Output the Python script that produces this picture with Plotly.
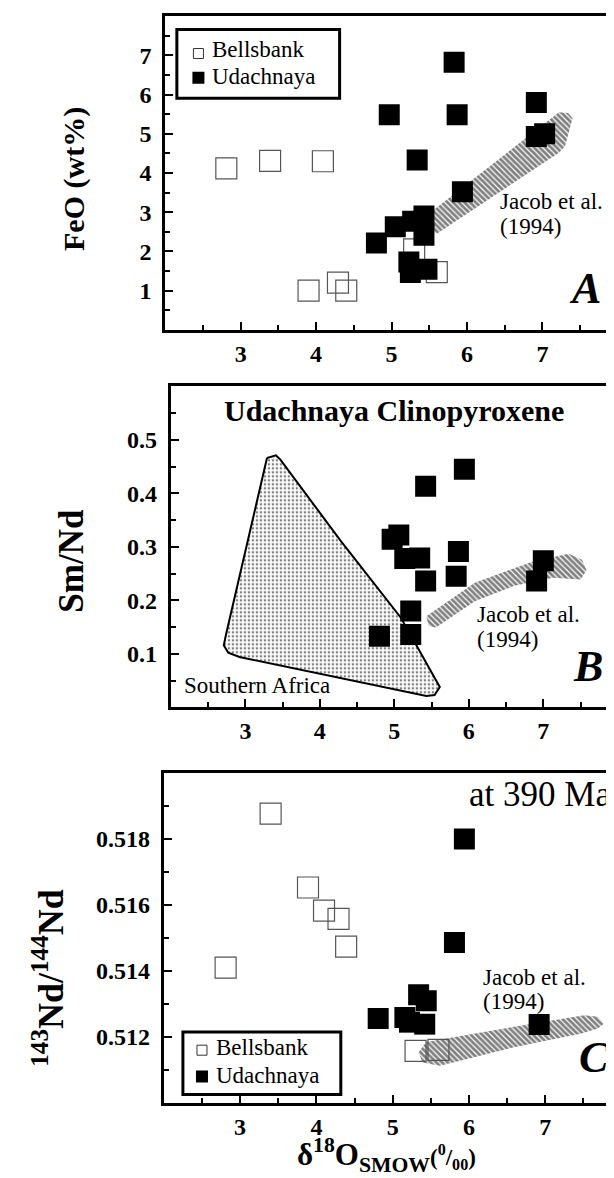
import numpy as np
import plotly.graph_objects as go

# ---------------- data ----------------
# Panel A: FeO (wt%) vs d18O
a_bells_x = [2.81, 3.39, 4.09, 3.90, 4.29, 4.40, 5.60, 5.30]
a_bells_y = [4.12, 4.31, 4.30, 1.00, 1.20, 1.00, 1.47, 2.05]
a_udach_x = [5.83, 4.97, 5.87, 6.92, 6.92, 7.03, 5.34, 5.94, 4.80, 5.05, 5.28, 5.43, 5.43, 5.23, 5.25, 5.47]
a_udach_y = [6.83, 5.49, 5.49, 5.80, 4.93, 5.00, 4.33, 3.52, 2.21, 2.63, 2.77, 2.90, 2.41, 1.73, 1.46, 1.54]
a_jacob_x = [5.50, 5.52, 7.22, 7.34, 7.40, 7.30, 7.22, 5.60]
a_jacob_y = [2.55, 3.00, 5.55, 5.53, 5.40, 4.68, 4.52, 2.45]

# Panel B: Sm/Nd vs d18O
b_udach_x = [4.80, 5.22, 5.22, 5.42, 5.83, 5.86, 5.94, 5.42, 4.97, 5.06, 5.14, 5.34, 6.91, 7.00]
b_udach_y = [0.133, 0.136, 0.180, 0.236, 0.245, 0.291, 0.445, 0.413, 0.314, 0.322, 0.278, 0.279, 0.236, 0.274]
b_jacob_x = [5.43, 6.08, 6.87, 7.34, 7.52, 7.58, 7.50, 7.13, 6.61, 6.08, 5.56, 5.46]
b_jacob_y = [0.170, 0.233, 0.273, 0.287, 0.276, 0.256, 0.239, 0.242, 0.227, 0.198, 0.149, 0.152]
b_safr_x = [3.29, 3.41, 3.47, 4.28, 5.09, 5.56, 5.61, 5.54, 5.43, 2.92, 2.77, 2.71, 2.74, 3.29]
b_safr_y = [0.466, 0.471, 0.463, 0.311, 0.167, 0.049, 0.038, 0.023, 0.021, 0.094, 0.102, 0.116, 0.136, 0.466]

# Panel C: 143Nd/144Nd vs d18O
c_bells_x = [3.40, 2.81, 3.89, 4.10, 4.29, 4.39, 5.30, 5.60]
c_bells_y = [0.51877, 0.51410, 0.51653, 0.51583, 0.51558, 0.51474, 0.51158, 0.51161]
c_udach_x = [5.94, 5.81, 4.81, 5.16, 5.22, 5.34, 5.44, 5.42, 6.92]
c_udach_y = [0.51800, 0.51486, 0.51256, 0.51259, 0.51245, 0.51328, 0.51310, 0.51239, 0.51238]
c_jacob_x = [5.44, 6.59, 7.51, 7.69, 7.77, 7.69, 7.46, 6.59, 5.62, 5.39, 5.34]
c_jacob_y = [0.51185, 0.51231, 0.51266, 0.51261, 0.51241, 0.51226, 0.51210, 0.51169, 0.51113, 0.51123, 0.51154]

# tick labels
x_ticks = [3, 4, 5, 6, 7]
a_y_ticks = [1, 2, 3, 4, 5, 6, 7]
b_y_ticks = [0.1, 0.2, 0.3, 0.4, 0.5]
b_y_text = ["0.1", "0.2", "0.3", "0.4", "0.5"]
c_y_ticks = [0.512, 0.514, 0.516, 0.518]
c_y_text = ["0.512", "0.514", "0.516", "0.518"]

legend_labels = ["Bellsbank", "Udachnaya"]

# ---------------- figure ----------------
W, H = 614, 1178
SERIF = "Liberation Serif, Times New Roman, DejaVu Serif, serif"

fig = go.Figure()

FILLED = dict(symbol="square", color="black", size=21, line=dict(width=0))
OPEN = dict(symbol="square-open", color="#555555", size=21, line=dict(width=1.2))
HATCH = dict(shape="\\", fgcolor="black", bgcolor="rgba(0,0,0,0)", size=4, solidity=0.7)

# Panel A
fig.add_trace(go.Scatter(x=a_jacob_x, y=a_jacob_y, fill="toself", mode="none",
                         fillcolor="rgba(0,0,0,0)", fillpattern=HATCH, xaxis="x", yaxis="y"))
fig.add_trace(go.Scatter(x=a_bells_x, y=a_bells_y, mode="markers", marker=OPEN, xaxis="x", yaxis="y"))
fig.add_trace(go.Scatter(x=a_udach_x, y=a_udach_y, mode="markers", marker=FILLED, xaxis="x", yaxis="y"))

# Panel B
fig.add_trace(go.Scatter(x=b_safr_x, y=b_safr_y, fill="toself", mode="lines",
                         line=dict(color="black", width=2), fillcolor="rgba(0,0,0,0)",
                         fillpattern=dict(shape=".", fgcolor="black", bgcolor="rgba(0,0,0,0)", size=4, solidity=0.3),
                         xaxis="x2", yaxis="y2"))
fig.add_trace(go.Scatter(x=b_jacob_x, y=b_jacob_y, fill="toself", mode="none",
                         fillcolor="rgba(0,0,0,0)", fillpattern=HATCH, xaxis="x2", yaxis="y2"))
fig.add_trace(go.Scatter(x=b_udach_x, y=b_udach_y, mode="markers", marker=FILLED, xaxis="x2", yaxis="y2"))

# Panel C
fig.add_trace(go.Scatter(x=c_jacob_x, y=c_jacob_y, fill="toself", mode="none",
                         fillcolor="rgba(0,0,0,0)", fillpattern=HATCH, xaxis="x3", yaxis="y3"))
fig.add_trace(go.Scatter(x=c_bells_x, y=c_bells_y, mode="markers", marker=OPEN, xaxis="x3", yaxis="y3"))
fig.add_trace(go.Scatter(x=c_udach_x, y=c_udach_y, mode="markers", marker=FILLED, xaxis="x3", yaxis="y3"))

# legend symbols (panel A and C)
fig.add_trace(go.Scatter(x=[2.44], y=[7.05], mode="markers",
                         marker=dict(symbol="square-open", color="#333", size=10, line=dict(width=1)),
                         xaxis="x", yaxis="y"))
fig.add_trace(go.Scatter(x=[2.44], y=[6.43], mode="markers",
                         marker=dict(symbol="square", color="black", size=12), xaxis="x", yaxis="y"))
fig.add_trace(go.Scatter(x=[2.50], y=[0.51160], mode="markers",
                         marker=dict(symbol="square-open", color="#333", size=10, line=dict(width=1)),
                         xaxis="x3", yaxis="y3"))
fig.add_trace(go.Scatter(x=[2.50], y=[0.51080], mode="markers",
                         marker=dict(symbol="square", color="black", size=12), xaxis="x3", yaxis="y3"))

tickfont = dict(family=SERIF, size=24, color="black", weight="bold")


def xaxis(domain, rng, anchor):
    return dict(domain=domain, range=rng, anchor=anchor, showgrid=False, zeroline=False,
                showline=True, linewidth=3, linecolor="black", mirror=True,
                tickmode="array", tickvals=x_ticks, ticks="inside", ticklen=8, tickwidth=2,
                tickcolor="black", tickfont=tickfont, ticklabelstandoff=0,
                minor=dict(tickmode="array", tickvals=list(np.arange(2.5, 8.0, 1.0)),
                           ticks="inside", ticklen=5, tickwidth=1.5, tickcolor="black", showgrid=False))


def yaxis(domain, rng, anchor, vals, text, minor_vals):
    return dict(domain=domain, range=rng, anchor=anchor, showgrid=False, zeroline=False,
                showline=True, linewidth=3, linecolor="black", mirror="ticks",
                tickmode="array", tickvals=vals, ticktext=text, ticks="inside", ticklen=8, tickwidth=2,
                tickcolor="black", tickfont=tickfont, ticklabelstandoff=6,
                minor=dict(tickmode="array", tickvals=minor_vals,
                           ticks="inside", ticklen=5, tickwidth=1.5, tickcolor="black", showgrid=False))


fig.update_layout(
    width=W, height=H, margin=dict(l=0, r=0, t=0, b=0),
    paper_bgcolor="white", plot_bgcolor="white", showlegend=False,
    font=dict(family=SERIF),
    xaxis=xaxis([158 / W, 612.8 / W], [2, 8], "y"),
    yaxis=yaxis([1 - 321.7 / H, 1 - 8.3 / H], [0, 8], "x", a_y_ticks,
                [str(v) for v in a_y_ticks], list(np.arange(0.5, 8.0, 1.0))),
    xaxis2=xaxis([163.7 / W, 612.8 / W], [2, 8], "y2"),
    yaxis2=yaxis([1 - 699.3 / H, 1 - 378.3 / H], [0, 0.6], "x2", b_y_ticks, b_y_text,
                 list(np.arange(0.05, 0.6, 0.1))),
    xaxis3=xaxis([156.6 / W, 1.0], [2, 7.967], "y3"),
    yaxis3=yaxis([1 - 1095 / H, 1 - 765 / H], [0.510, 0.520], "x3", c_y_ticks, c_y_text,
                 list(np.arange(0.511, 0.5200, 0.002))),
)

ann = []


def txt(x, y, s, xref, yref, size, xanchor="left", bold=False, italic=False, angle=0):
    ann.append(dict(x=x, y=y, xref=xref, yref=yref, text=s, showarrow=False,
                    xanchor=xanchor, yanchor="middle", textangle=angle,
                    font=dict(family=SERIF, size=size, color="black",
                              weight="bold" if bold else "normal",
                              style="italic" if italic else "normal")))


# Panel A texts
txt(2.60, 7.16, legend_labels[0], "x", "y", 23)
txt(2.60, 6.47, legend_labels[1], "x", "y", 23)
txt(6.41, 3.28, "Jacob et al.", "x", "y", 23)
txt(6.41, 2.64, "(1994)", "x", "y", 23)
txt(7.56, 1.06, "A", "x", "y", 44, xanchor="center", bold=True, italic=True)

# Panel B texts
txt(4.99, 0.554, "Udachnaya Clinopyroxene", "x2", "y2", 30, xanchor="center", bold=True)
txt(6.08, 0.1735, "Jacob et al.", "x2", "y2", 23)
txt(6.08, 0.1267, "(1994)", "x2", "y2", 23)
txt(2.15, 0.0415, "Southern Africa", "x2", "y2", 23)
txt(7.60, 0.077, "B", "x2", "y2", 44, xanchor="center", bold=True, italic=True)

# Panel C texts
txt(5.98, 0.51936, "at 390 Ma", "x3", "y3", 35)
txt(6.16, 0.51379, "Jacob et al.", "x3", "y3", 23)
txt(6.16, 0.51309, "(1994)", "x3", "y3", 23)
txt(2.66, 0.51169, legend_labels[0], "x3", "y3", 23)
txt(2.66, 0.51082, legend_labels[1], "x3", "y3", 23)
txt(7.64, 0.51139, "C", "x3", "y3", 44, xanchor="center", bold=True, italic=True)

# axis titles
txt(65.6 / W, 1 - 170.7 / H, "FeO (wt%)", "paper", "paper", 30, xanchor="center", bold=True, angle=-90)
txt(64 / W, 1 - 553 / H, "Sm/Nd", "paper", "paper", 35, xanchor="center", bold=True, angle=-90)
txt(40 / W, 1 - 970 / H, "<sup>143</sup>Nd/<sup>144</sup>Nd", "paper", "paper", 36,
    xanchor="center", bold=True, angle=-90)
txt(380 / W, 1 - 1147 / H,
    'δ<sup>18</sup>O<sub>SMOW</sub><span style="font-size:23px">(<sup>0</sup>/<sub>00</sub>)</span>',
    "paper", "paper", 31, xanchor="center", bold=True)

fig.update_layout(annotations=ann)

# legend boxes
fig.add_shape(type="rect", xref="x", yref="y", x0=2.154, x1=4.312, y0=5.91, y1=7.66,
              line=dict(color="black", width=3))
fig.add_shape(type="rect", xref="x3", yref="y3", x0=2.25, x1=4.32, y0=0.51026, y1=0.51215,
              line=dict(color="black", width=3))

fig.write_html("out.html")
